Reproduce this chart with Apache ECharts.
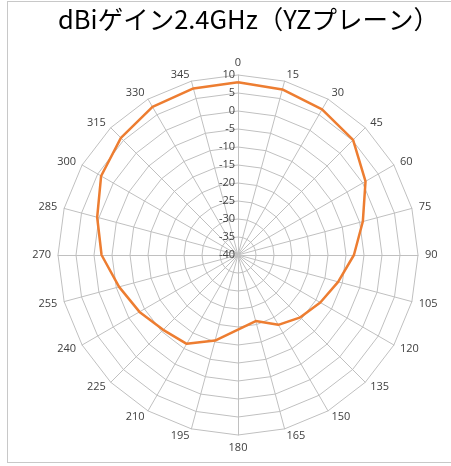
<!DOCTYPE html>
<html>
<head>
<meta charset="utf-8">
<script src="https://cdn.jsdelivr.net/npm/echarts@6/dist/echarts.min.js"></script>
<style>
html,body{margin:0;padding:0;background:#fff;overflow:hidden;}
#frame{position:absolute;left:7px;top:1px;width:470px;height:462px;border:1.5px solid #c8c8c8;box-sizing:border-box;}
#chart{position:absolute;left:0;top:0;width:451px;height:466px;}
</style>
</head>
<body>
<div id="frame"></div>
<div id="chart"></div>
<script>
const titleText = 'dBiゲイン2.4GHz（YZプレーン）';
const angles = ['0','15','30','45','60','75','90','105','120','135','150','165','180','195','210','225','240','255','270','285','300','315','330','345'];
const gainValues = [8.0, 7.6, 6.7, 5.2, 0.9, -4.1, -7.8, -11.2, -13.6, -15.5, -17.6, -21.0, -19.3, -15.4, -11.5, -10.6, -8.4, -5.8, -2.1, 0.5, 3.9, 6.0, 7.5, 7.9];
const axisMin = -40;
const axisMax = 10;
const axisStep = 5;

// ECharts radar lays indicators out counter-clockwise; reorder so the angles run clockwise
const order = [0].concat(angles.map((_, i) => i).slice(1).reverse());
const indicator = order.map((idx, k) => ({
  name: angles[idx], min: axisMin, max: axisMax,
  axisLabel: {show: k === 0}
}));
const values = order.map(idx => gainValues[idx]);

const chart = echarts.init(document.getElementById('chart'), null, {renderer: 'canvas'});
chart.setOption({
  animation: false,
  title: {
    text: titleText, left: 243.5, top: 2, textAlign: 'center',
    textStyle: {fontFamily: '"Noto Sans CJK JP"', fontSize: 25.5, fontWeight: 'normal', color: '#000'}
  },
  radar: {
    center: [238, 255],
    radius: 180,
    startAngle: 90,
    shape: 'polygon',
    splitNumber: (axisMax - axisMin) / axisStep,
    indicator: indicator,
    nameGap: 7,
    axisName: {color: '#404040', fontSize: 11, fontFamily: '"Open Sans", sans-serif'},
    axisLine: {lineStyle: {color: '#c0c0c0', width: 1}},
    splitLine: {lineStyle: {color: '#c0c0c0', width: 1}},
    splitArea: {show: false},
    axisTick: {show: false},
    axisLabel: {show: true, color: '#404040', fontSize: 11, fontFamily: '"Open Sans", sans-serif', margin: 3}
  },
  series: [{
    type: 'radar',
    symbol: 'none',
    lineStyle: {color: '#ED7D31', width: 2.5},
    data: [{value: values}]
  }]
});
</script>
</body>
</html>
